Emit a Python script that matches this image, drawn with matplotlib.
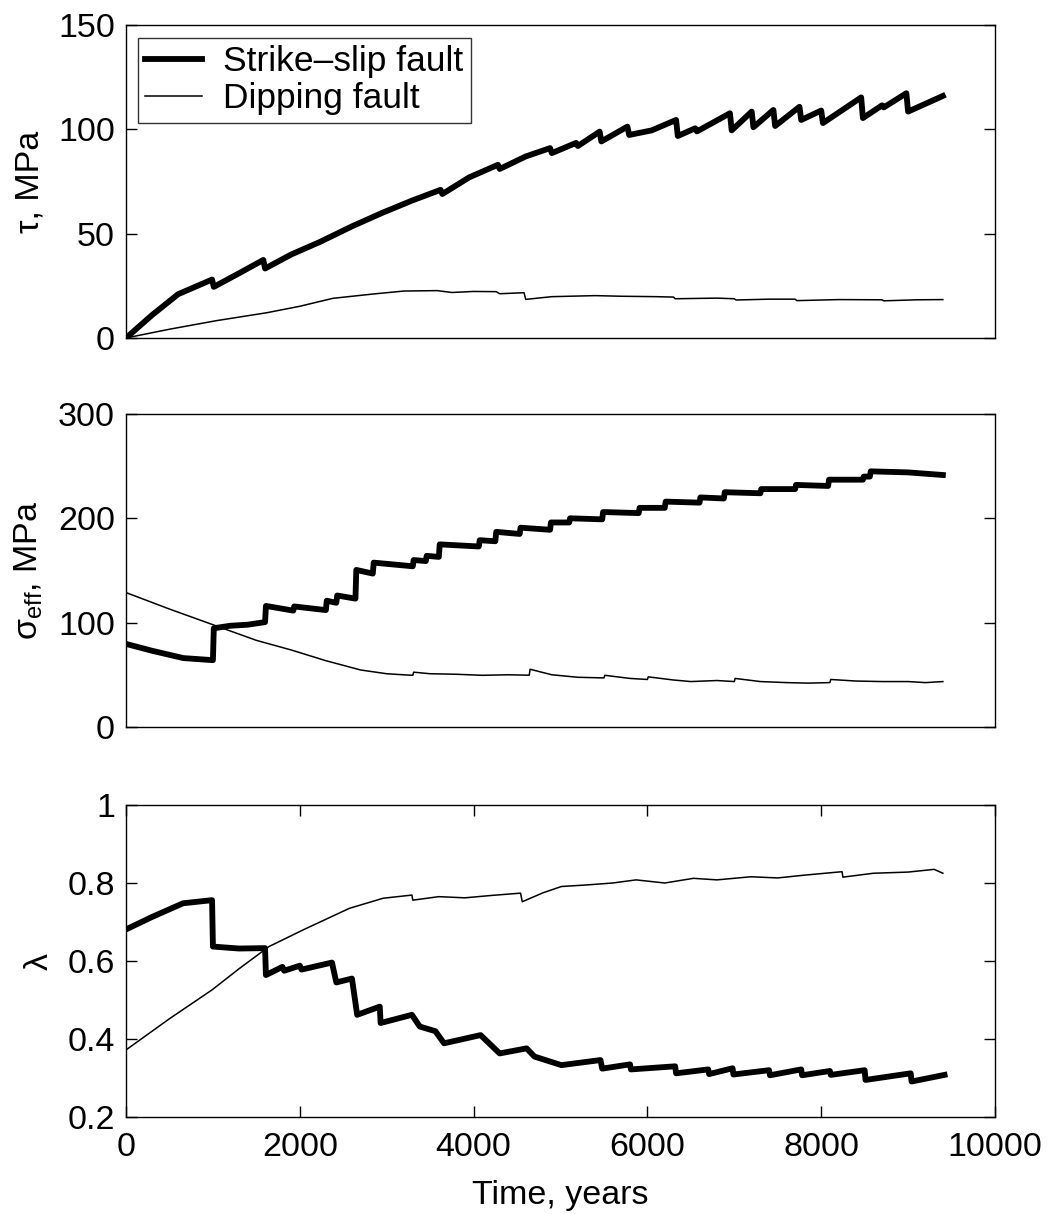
import matplotlib
matplotlib.use("Agg")
import matplotlib.pyplot as plt

plt.rcParams['font.family'] = ['Liberation Sans', 'DejaVu Sans']

# shear stress, strike-slip fault (thick)
tau_ss_t = [0, 300, 600, 990, 1010, 1300, 1580, 1600, 1900, 2230, 2600, 2950, 3300,
            3620, 3640, 3950, 4280, 4300, 4600, 4880, 4900, 5180, 5200, 5450, 5470,
            5770, 5790, 6050, 6330, 6350, 6550, 6570, 6950, 6970, 7200, 7220, 7450,
            7470, 7750, 7770, 8000, 8020, 8460, 8480, 8700, 8720, 8980, 9000, 9400]
tau_ss = [0, 11, 21, 28, 24.5, 31, 37.4, 33.3, 40, 46, 53.5, 60, 66,
          71, 69, 77, 83, 81, 87, 91, 88.6, 93.5, 92, 98.9, 94.2,
          101.3, 97.3, 99.5, 104.5, 96.8, 100.5, 99, 107.7, 99.5, 108.5, 101, 109.3,
          101.6, 110.8, 104.5, 109, 103, 115.3, 105.4, 111.5, 110.5, 117.3, 108.5, 116]

# shear stress, dipping fault (thin)
tau_dp_t = [0, 500, 1040, 1620, 2000, 2380, 2850, 3200, 3580, 3750, 4000, 4260, 4300,
            4580, 4600, 4900, 5400, 5700, 6100, 6300, 6320, 6800, 7000, 7020, 7400,
            7700, 7720, 8200, 8700, 8720, 9100, 9400]
tau_dp = [0, 4.2, 8.3, 12.1, 15.2, 19.0, 21.1, 22.5, 22.7, 21.8, 22.3, 22.2, 21.2,
          21.7, 18.5, 19.8, 20.3, 20.0, 19.8, 19.6, 18.8, 19.1, 18.8, 18.2, 18.6,
          18.6, 17.9, 18.4, 18.3, 17.8, 18.3, 18.4]

# effective normal stress, strike-slip fault
sig_ss_t = [0, 300, 660, 1000, 1010, 1200, 1400, 1600, 1610, 1925, 1935, 2300, 2310,
            2420, 2430, 2640, 2650, 2840, 2850, 3300, 3310, 3450, 3460, 3600, 3610,
            4060, 4070, 4250, 4260, 4530, 4540, 4880, 4890, 5100, 5110, 5480, 5490,
            5900, 5910, 6200, 6210, 6600, 6610, 6880, 6890, 7300, 7310, 7700, 7710,
            8080, 8090, 8480, 8490, 8560, 8570, 9000, 9400]
sig_ss = [79.6, 73, 66, 64, 94.6, 97, 98, 100.5, 116, 111.5, 115.5, 112, 121,
          119, 126, 123, 150.5, 147, 157.5, 154, 160, 159, 164, 163, 175,
          173, 179, 178, 187, 185, 191, 189, 196, 196, 200, 199, 206,
          205, 210, 210, 216, 215, 220, 219, 225, 224, 228, 228, 232,
          231, 237, 237, 240, 240, 245, 244, 241.5]

# effective normal stress, dipping fault
sig_dp_t = [0, 500, 1050, 1500, 1900, 2300, 2700, 3000, 3230, 3300, 3310, 3500, 3800,
            4100, 4400, 4640, 4650, 4900, 5200, 5500, 5510, 5800, 6000, 6010, 6300,
            6500, 6800, 7000, 7010, 7300, 7600, 7850, 8100, 8110, 8400, 8700, 9000,
            9200, 9400]
sig_dp = [128.8, 113, 96.5, 83, 73.8, 63.5, 54.6, 51, 49.8, 49.5, 52.5, 51, 50.5,
          49.5, 50, 49.6, 55.3, 50, 47.6, 47, 49.5, 46.5, 45.5, 48, 45,
          43.5, 44.5, 43.5, 46.5, 43.5, 42.5, 42, 42.5, 45.5, 44, 43.5, 43.5,
          42.5, 43.5]

# pore pressure ratio, strike-slip fault
lam_ss_t = [0, 300, 656, 990, 1000, 1300, 1600, 1610, 1800, 1820, 2000, 2020, 2370,
            2420, 2600, 2660, 2920, 2930, 3290, 3380, 3560, 3660, 4080, 4300, 4610,
            4700, 5010, 5460, 5480, 5800, 5810, 6320, 6330, 6700, 6710, 6980, 6990,
            7400, 7410, 7770, 7780, 8100, 8110, 8500, 8510, 9030, 9040, 9420]
lam_ss = [0.681, 0.713, 0.748, 0.756, 0.637, 0.632, 0.633, 0.564, 0.585, 0.575, 0.588, 0.578, 0.596,
          0.545, 0.555, 0.462, 0.483, 0.441, 0.462, 0.432, 0.42, 0.389, 0.41, 0.363, 0.376,
          0.355, 0.333, 0.346, 0.324, 0.335, 0.322, 0.33, 0.312, 0.322, 0.31, 0.325, 0.309,
          0.32, 0.307, 0.322, 0.307, 0.318, 0.308, 0.32, 0.295, 0.312, 0.291, 0.308]

# pore pressure ratio, dipping fault
lam_dp_t = [0, 500, 990, 1300, 1645, 2040, 2570, 2960, 3290, 3300, 3600, 3900, 4200,
            4540, 4560, 4800, 5010, 5300, 5600, 5870, 6200, 6530, 6800, 7190, 7500,
            7800, 8240, 8250, 8600, 9000, 9300, 9400]
lam_dp = [0.372, 0.452, 0.526, 0.58, 0.637, 0.68, 0.735, 0.761, 0.769, 0.756, 0.765, 0.762, 0.768,
          0.774, 0.752, 0.775, 0.791, 0.795, 0.80, 0.808, 0.80, 0.812, 0.808, 0.816, 0.813,
          0.82, 0.829, 0.815, 0.825, 0.828, 0.835, 0.825]

x_ticks = [0, 2000, 4000, 6000, 8000, 10000]

fig = plt.figure(figsize=(10.52, 12.14), dpi=100)
left, width, height = 0.1198, 0.826, 0.2578
ax1 = fig.add_axes([left, 0.7216, width, height])
ax2 = fig.add_axes([left, 0.4012, width, height])
ax3 = fig.add_axes([left, 0.0799, width, 0.257])

thick, thin = 4.2, 1.1
fs = 24.5

ax1.plot(tau_ss_t, tau_ss, color='black', lw=thick, label='Strike\u2013slip fault')
ax1.plot(tau_dp_t, tau_dp, color='black', lw=thin, label='Dipping fault')
ax1.set_ylim(0, 150)
ax1.set_yticks([0, 50, 100, 150])
ax1.set_ylabel('\u03c4, MPa', fontsize=fs)
ax1.yaxis.set_label_coords(-0.093, 0.5)
leg = ax1.legend(loc='upper left', bbox_to_anchor=(0.014, 0.958), borderaxespad=0,
                 fontsize=25.5, frameon=True, fancybox=False, edgecolor='black',
                 handlelength=1.6, handletextpad=0.6, labelspacing=0.12,
                 borderpad=0.2)
leg.get_frame().set_linewidth(1.0)

ax2.plot(sig_ss_t, sig_ss, color='black', lw=thick)
ax2.plot(sig_dp_t, sig_dp, color='black', lw=thin)
ax2.set_ylim(0, 300)
ax2.set_yticks([0, 100, 200, 300])
ax2.set_ylabel(r'$\mathregular{\sigma_{eff}}$, MPa', fontsize=fs)
ax2.yaxis.set_label_coords(-0.093, 0.5)

ax3.plot(lam_ss_t, lam_ss, color='black', lw=thick)
ax3.plot(lam_dp_t, lam_dp, color='black', lw=thin)
ax3.set_ylim(0.2, 1)
ax3.set_yticks([0.2, 0.4, 0.6, 0.8, 1])
ax3.set_yticklabels(['0.2', '0.4', '0.6', '0.8', '1'])
ax3.set_ylabel('\u03bb', fontsize=fs)
ax3.yaxis.set_label_coords(-0.082, 0.5)
ax3.set_xticks(x_ticks)
ax3.set_xticklabels([str(v) for v in x_ticks])
ax3.set_xlabel('Time, years', fontsize=fs, labelpad=12)

for ax in (ax1, ax2, ax3):
    ax.set_xlim(0, 10000)
    for s in ax.spines.values():
        s.set_linewidth(1.0)
    ax.tick_params(axis='y', direction='in', right=True, length=8, width=1.0,
                   labelsize=fs, pad=8)
for ax in (ax1, ax2):
    ax.set_xticks([])
ax3.tick_params(axis='x', direction='in', top=True, length=8, width=1.0,
                labelsize=fs, pad=11)

fig.savefig('out.png', dpi=100)
